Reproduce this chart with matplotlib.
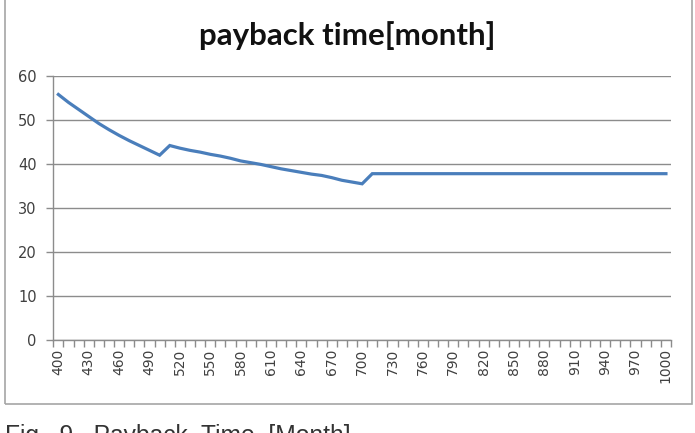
import matplotlib
matplotlib.use("Agg")
import matplotlib.pyplot as plt
from matplotlib.patches import Rectangle
import numpy as np

# Data
capacity = list(range(400, 1001, 10))
payback = [55.8, 54.0, 52.4, 50.8, 49.2, 47.8, 46.5, 45.3, 44.2, 43.1, 42.0,
           44.2, 43.6, 43.1, 42.7, 42.2, 41.8, 41.3, 40.7, 40.3, 39.9,
           39.4, 38.9, 38.5, 38.1, 37.7, 37.4, 36.9, 36.3, 35.9, 35.5] + [37.8] * 30
tick_labels = [str(c) for c in capacity]
y_ticks = [0, 10, 20, 30, 40, 50, 60]
title = "payback time[month]"
caption = "Fig.  9.  Payback  Time  [Month]"

W, H = 695, 433
fig = plt.figure(figsize=(W / 100, H / 100), dpi=100)
fig.patch.set_facecolor("white")

# outer chart border
fig.patches.append(Rectangle((4.5 / W, 1 - 404 / H), (691.5 - 4.5) / W, 404 / H + 0.05,
                             transform=fig.transFigure, fill=False,
                             edgecolor="#a6a6a6", linewidth=1.2, clip_on=False))

ax = fig.add_axes([53.3 / W, 1 - 340 / H, (671 - 53.3) / W, (340 - 76) / H])
x = np.arange(len(capacity))
ax.plot(x, payback, color="#4a7ebb", linewidth=2.3, solid_joinstyle="miter")

ax.set_xlim(-0.5, len(capacity) - 0.5)
ax.set_ylim(0, 60)
ax.set_yticks(y_ticks)
ax.yaxis.grid(True, color="#8c8c8c", linewidth=1.0)
ax.set_axisbelow(True)

# major ticks at category boundaries, labels as minor ticks
ax.set_xticks(np.arange(-0.5, len(capacity), 1.0))
ax.set_xticklabels([])
ax.set_xticks(x[::3], minor=True)
ax.set_xticklabels(tick_labels[::3], minor=True, rotation=90,
                   fontsize=10, color="#404040", family="DejaVu Sans")
ax.tick_params(axis="x", which="major", direction="out", length=5, color="#8c8c8c", width=1)
ax.tick_params(axis="x", which="minor", length=0, pad=6)
ax.tick_params(axis="y", direction="out", length=5, color="#8c8c8c", width=1,
               labelsize=10.5, labelcolor="#404040", pad=7)

for s in ["top", "right"]:
    ax.spines[s].set_visible(False)
for s in ["left", "bottom"]:
    ax.spines[s].set_color("#8c8c8c")
    ax.spines[s].set_linewidth(1.0)

fig.text(347 / W, 1 - 36 / H, title, ha="center", va="center",
         fontsize=22.5, fontweight="bold", family="Lato", color="#111111")

fig.text(5 / W, 1 - 424 / H, caption, ha="left", va="top",
         fontsize=17.7, family="Liberation Sans", color="#333333")

fig.savefig("out.png", dpi=100, facecolor="white")
